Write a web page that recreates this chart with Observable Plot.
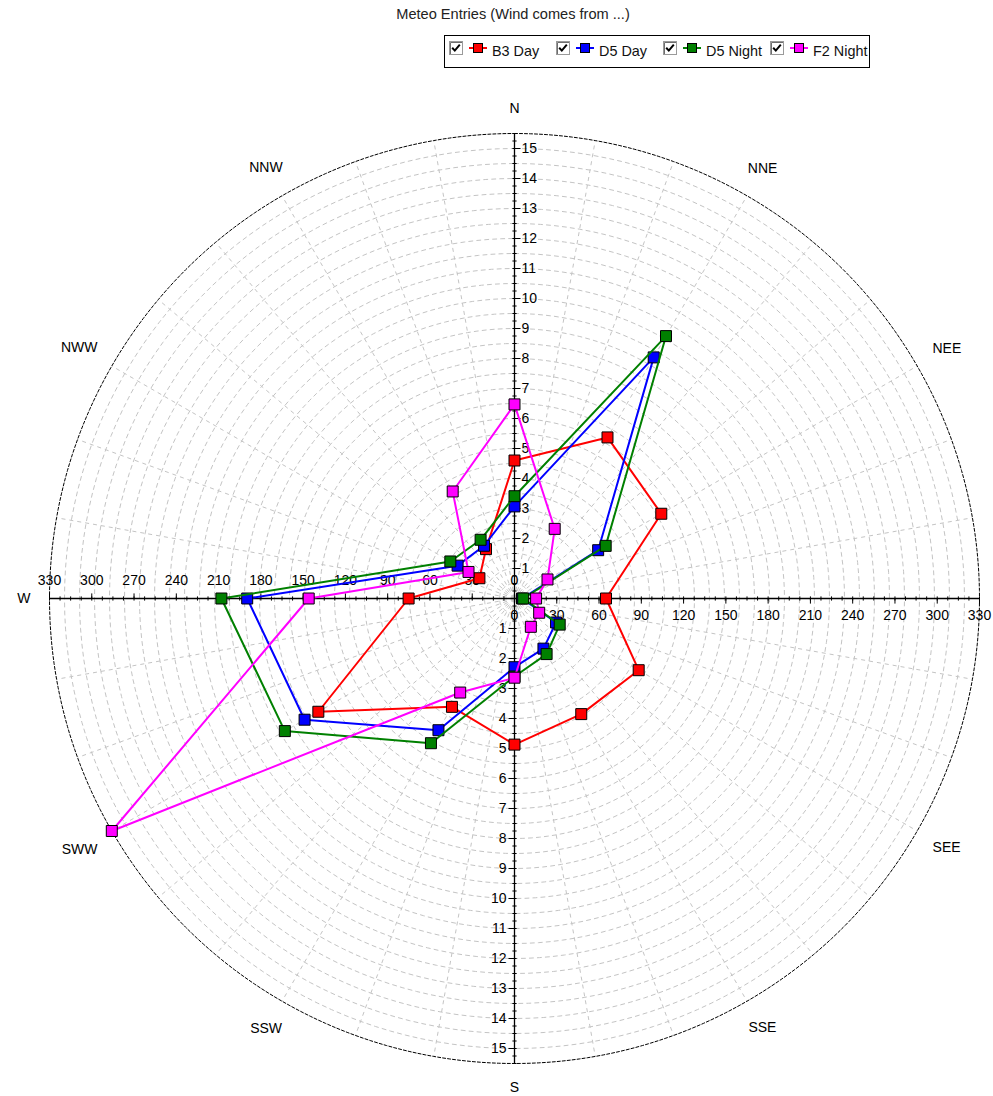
<!DOCTYPE html>
<html>
<head>
<meta charset="utf-8">
<script src="https://cdn.jsdelivr.net/npm/d3@7"></script>
<script src="https://cdn.jsdelivr.net/npm/@observablehq/plot@0.6"></script>
<style>
  html, body { margin: 0; padding: 0; background: #fff; overflow: hidden; }
  body { width: 993px; height: 1096px; position: relative; font-family: "Liberation Sans", Arial, sans-serif; }
  #title { position: absolute; left: 0; width: 1026px; top: 6px; text-align: center; font-size: 14.6px; line-height: 16px; color: #222; }
  #legend { position: absolute; left: 444px; top: 35px; width: 426px; height: 33px; box-sizing: border-box; border: 1px solid #000; }
  .item { position: absolute; top: 0; height: 31px; width: 107px; }
  .item svg { position: absolute; }
  .item span { position: absolute; left: 43px; top: 7px; font-size: 14.4px; line-height: 16px; color: #111; white-space: nowrap; }
  #chart { position: absolute; left: 0; top: 75px; }
</style>
</head>
<body>
<div id="title">Meteo Entries (Wind comes from ...)</div>
<div id="legend"></div>
<div id="chart"></div>
<script>
// ---- data ----
const directions = ["N", "NNE", "NEE", "E", "SEE", "SSE", "S", "SSW", "SWW", "W", "NWW", "NNW"];
const angles = [0, 30, 60, 90, 120, 150, 180, 210, 240, 270, 300, 330];
const seriesNames = ["B3 Day", "D5 Day", "D5 Night", "F2 Night"];
const seriesColors = ["#ff0000", "#0000ff", "#008000", "#ff00ff"];
const b3Day   = [4.6, 6.2, 5.65, 3.05, 4.78, 4.45, 4.87, 4.17, 7.55, 3.53, 1.35, 1.9];
const d5Day   = [3.07, 9.28, 3.22, 0.25, 1.6, 1.93, 2.29, 5.07, 8.08, 8.91, 2.19, 2.03];
const d5Night = [3.41, 10.1, 3.51, 0.29, 1.74, 2.14, 2.6, 5.57, 8.84, 9.77, 2.47, 2.26];
const f2Night = [6.47, 2.68, 1.27, 0.72, 0.95, 1.09, 2.64, 3.62, 15.5, 6.86, 1.77, 4.12];
const radialTickLabels = [1, 2, 3, 4, 5, 6, 7, 8, 9, 10, 11, 12, 13, 14, 15];
const horizontalTickLabels = [0, 30, 60, 90, 120, 150, 180, 210, 240, 270, 300, 330];
const rMax = 15.5;        // outer circle in value units
const hMax = 330;         // horizontal label scale maximum

// ---- legend (HTML) ----
const legend = document.getElementById("legend");
seriesNames.forEach((name, i) => {
  const it = document.createElement("div");
  it.className = "item";
  it.style.left = (4 + i * 107) + "px";
  it.innerHTML =
    `<svg width="14" height="14" style="left:0;top:5px">
       <rect x="0.5" y="0.5" width="13" height="13" fill="#fff" stroke="#9a9a9a"/>
       <path d="M1.5,13 V1.5 H13" fill="none" stroke="#6e6e6e"/>
       <path d="M3.2,6.8 L5.8,9.6 L10.8,3.6" fill="none" stroke="#000" stroke-width="2"/>
     </svg>
     <svg width="18" height="12" style="left:20px;top:6px">
       <line x1="0" y1="6" x2="18" y2="6" stroke="${seriesColors[i]}" stroke-width="2"/>
       <rect x="4.5" y="1.5" width="9" height="9" fill="${seriesColors[i]}" stroke="#000"/>
     </svg>
     <span>${name}</span>`;
  legend.appendChild(it);
});

// ---- chart ----
const W = 993, H = 1021, mL = 49, mR = 14, mT = 58, mB = 33;
const pxPerUnit = (W - mL - mR) / (2 * rMax);
const rad = a => a * Math.PI / 180;
const px = (r, a) => r * Math.sin(rad(a));
const py = (r, a) => r * Math.cos(rad(a));
const seriesValues = [b3Day, d5Day, d5Night, f2Night];

const circleRadii = d3.range(0.5, 15.001, 0.5);
const circlePts = circleRadii.flatMap(r => d3.range(0, 361, 2).map(a => ({r, a})));
const outerPts = d3.range(0, 361, 1).map(a => ({r: rMax, a}));
const spokeAngles = d3.range(0, 360, 10);

const minorV = d3.range(0.25, rMax + 0.001, 0.25);
const minorH = d3.range(7.5, hMax + 0.001, 7.5).map(v => v / hMax * rMax);

// direction labels: placed just outside the outer ring, pushed out by their own box
const labelFont = "14px 'Liberation Sans', Arial, sans-serif";
const ctx = document.createElement("canvas").getContext("2d");
ctx.font = labelFont;
const labelAnchorPx = 484, labelH = 11;
const dirLabels = directions.map((d, i) => {
  const a = angles[i];
  const w = ctx.measureText(d).width;
  const push = (w / 2) * Math.abs(Math.sin(rad(a))) + (labelH / 2) * Math.abs(Math.cos(rad(a)));
  const r = (labelAnchorPx + push) / pxPerUnit;
  return {d, a, r, w};
}).filter(o => {
  // keep only labels whose box lies on the page (the east label falls outside, as in the original)
  const cx = mL + (px(o.r, o.a) + rMax) * pxPerUnit;
  return cx + o.w / 2 <= W && cx - o.w / 2 >= 0;
});

const marks = [
  // grid circles
  Plot.line(circlePts, {x: d => px(d.r, d.a), y: d => py(d.r, d.a), z: "r", stroke: "#c4c4c4", strokeWidth: 1, strokeDasharray: "4,4"}),
  // spokes
  Plot.link(spokeAngles, {x1: () => 0, y1: () => 0, x2: a => px(rMax, a), y2: a => py(rMax, a), stroke: "#c4c4c4", strokeWidth: 1, strokeDasharray: "4,4"}),
  // outer circle
  Plot.line(outerPts, {x: d => px(d.r, d.a), y: d => py(d.r, d.a), stroke: "#000", strokeWidth: 1, strokeDasharray: "3,2"}),
  // main axes
  Plot.link([0], {x1: () => 0, x2: () => 0, y1: () => -rMax, y2: () => rMax, stroke: "#000", strokeWidth: 1.3}),
  Plot.link([0], {y1: () => 0, y2: () => 0, x1: () => -rMax, x2: () => rMax, stroke: "#000", strokeWidth: 1.3}),
  // vertical minor ticks (both halves)
  Plot.link(minorV.flatMap(v => [v, -v]), {x1: () => -0.07, x2: () => 0.07, y1: d => d, y2: d => d, stroke: "#000"}),
  // vertical major ticks
  Plot.link(radialTickLabels, {x1: () => 0, x2: () => 0.2, y1: d => d, y2: d => d, stroke: "#000"}),
  Plot.link(radialTickLabels, {x1: () => -0.2, x2: () => 0, y1: d => -d, y2: d => -d, stroke: "#000"}),
  // horizontal minor ticks
  Plot.link(minorH.flatMap(v => [v, -v]), {y1: () => -0.07, y2: () => 0.07, x1: d => d, x2: d => d, stroke: "#000"}),
  // horizontal major ticks
  Plot.link(horizontalTickLabels, {y1: () => 0, y2: () => 0.17, x1: d => -d / hMax * rMax, x2: d => -d / hMax * rMax, stroke: "#000"}),
  Plot.link(horizontalTickLabels, {y1: () => -0.17, y2: () => 0, x1: d => d / hMax * rMax, x2: d => d / hMax * rMax, stroke: "#000"}),
  // vertical tick labels
  Plot.text(radialTickLabels, {x: () => 0, y: d => d, text: d => String(d), dx: 7, textAnchor: "start", fill: "#000"}),
  Plot.text(radialTickLabels, {x: () => 0, y: d => -d, text: d => String(d), dx: -8, textAnchor: "end", fill: "#000"}),
  // horizontal tick labels
  Plot.text(horizontalTickLabels, {x: d => -d / hMax * rMax, y: () => 0, text: d => String(d), dy: -18, fill: "#000"}),
  Plot.text(horizontalTickLabels, {x: d => d / hMax * rMax, y: () => 0, text: d => String(d), dy: 17, fill: "#000"}),
  // direction labels
  Plot.text(dirLabels, {x: o => px(o.r, o.a), y: o => py(o.r, o.a), text: "d", fontSize: 14, fill: "#000"})
];

seriesNames.forEach((name, i) => {
  const vals = seriesValues[i];
  const pts = angles.map((a, j) => ({series: name, a, v: vals[j]}));
  const closed = pts.concat([pts[0]]);
  marks.push(
    Plot.line(closed, {x: d => px(d.v, d.a), y: d => py(d.v, d.a), stroke: seriesColors[i], strokeWidth: 2}),
    Plot.dot(pts, {x: d => px(d.v, d.a), y: d => py(d.v, d.a), symbol: "square", r: 6.2, fill: seriesColors[i], stroke: "#000", strokeWidth: 1})
  );
});

const chart = Plot.plot({
  width: W,
  height: H,
  marginTop: mT,
  marginBottom: mB,
  marginLeft: mL,
  marginRight: mR,
  x: {domain: [-rMax, rMax], axis: null},
  y: {domain: [-rMax, rMax], axis: null},
  style: {fontFamily: "'Liberation Sans', Arial, sans-serif", fontSize: "14px", background: "transparent", overflow: "visible"},
  marks
});
document.getElementById("chart").appendChild(chart);
</script>
</body>
</html>
